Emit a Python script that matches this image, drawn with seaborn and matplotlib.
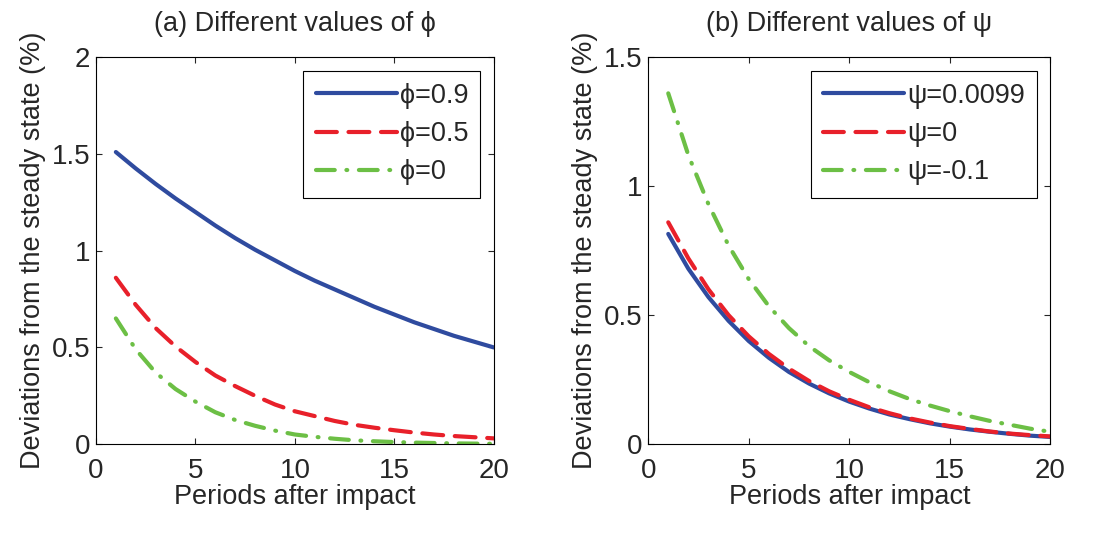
import numpy as np
import pandas as pd
import matplotlib
matplotlib.use("Agg")
import matplotlib.pyplot as plt
import seaborn as sns

periods = list(range(1, 21))

# panel (a): different values of phi
phi_09 = [1.51, 1.425, 1.345, 1.27, 1.20, 1.13, 1.065, 1.005, 0.95, 0.895,
          0.845, 0.80, 0.755, 0.71, 0.67, 0.63, 0.595, 0.56, 0.53, 0.50]
phi_05 = [0.86, 0.72, 0.60, 0.505, 0.425, 0.355, 0.30, 0.25, 0.205, 0.17,
          0.145, 0.12, 0.10, 0.085, 0.072, 0.06, 0.05, 0.042, 0.036, 0.03]
phi_0 = [0.65, 0.49, 0.37, 0.285, 0.22, 0.165, 0.125, 0.095, 0.07, 0.05,
         0.038, 0.028, 0.02, 0.015, 0.011, 0.008, 0.006, 0.004, 0.003, 0.002]

# panel (b): different values of psi
psi_0099 = [0.815, 0.68, 0.57, 0.478, 0.40, 0.335, 0.28, 0.235, 0.197, 0.165,
            0.138, 0.115, 0.097, 0.081, 0.068, 0.057, 0.048, 0.040, 0.033, 0.028]
psi_0 = [0.86, 0.72, 0.60, 0.50, 0.418, 0.35, 0.293, 0.245, 0.205, 0.172,
         0.143, 0.12, 0.10, 0.084, 0.07, 0.059, 0.049, 0.041, 0.035, 0.03]
psi_m01 = [1.36, 1.12, 0.93, 0.77, 0.64, 0.535, 0.45, 0.38, 0.325, 0.28,
           0.24, 0.205, 0.175, 0.15, 0.128, 0.108, 0.09, 0.075, 0.06, 0.048]

blue = '#2f4b9f'
red = '#e8202a'
green = '#6cbf45'
solid = '-'
dashed = (0, (5.0, 2.8))
dashdot = (0, (4.5, 2.8, 0.2, 2.8))

sns.set_style("ticks")
plt.rcParams['font.family'] = ['Liberation Sans', 'DejaVu Sans']
plt.rcParams['xtick.direction'] = 'in'
plt.rcParams['ytick.direction'] = 'in'
fs = 19.5

fig = plt.figure(figsize=(10.93, 5.45), dpi=100)
ax1 = fig.add_axes([0.0878, 0.185, 0.364, 0.710])
ax2 = fig.add_axes([0.593, 0.185, 0.368, 0.710])

panels = [
    (ax1, [(phi_09, 'ϕ=0.9', blue, solid), (phi_05, 'ϕ=0.5', red, dashed), (phi_0, 'ϕ=0', green, dashdot)],
     '(a) Different values of ϕ', 2, [0, 0.5, 1, 1.5, 2], ['0', '0.5', '1', '1.5', '2']),
    (ax2, [(psi_0099, 'ψ=0.0099', blue, solid), (psi_0, 'ψ=0', red, dashed), (psi_m01, 'ψ=-0.1', green, dashdot)],
     '(b) Different values of ψ', 1.5, [0, 0.5, 1, 1.5], ['0', '0.5', '1', '1.5']),
]

for ax, series, title, ymax, yt, ytl in panels:
    for vals, lab, col, ls in series:
        sns.lineplot(x=periods, y=vals, ax=ax, color=col, lw=3.0, linestyle=ls,
                     label=lab, dash_capstyle='round', solid_capstyle='round')
    ax.set_xlim(0, 20)
    ax.set_ylim(0, ymax)
    ax.set_xticks([0, 5, 10, 15, 20])
    ax.set_xticklabels(['0', '5', '10', '15', '20'])
    ax.set_yticks(yt)
    ax.set_yticklabels(ytl)
    ax.tick_params(top=True, right=True, labelsize=fs + 0.5, length=4, width=0.8)
    ax.tick_params(axis='x', pad=10)
    ax.tick_params(axis='y', pad=4)
    for s in ax.spines.values():
        s.set_visible(True)
        s.set_linewidth(0.8)
        s.set_color('black')
    ax.set_xlabel('Periods after impact', fontsize=fs, labelpad=0)
    ax.set_ylabel('Deviations from the steady state (%)', fontsize=fs, labelpad=4)
    ax.set_title(title, fontsize=fs, pad=19)
    leg = ax.legend(loc='upper right', fontsize=fs, handlelength=3.0, handletextpad=0.1,
                    borderaxespad=0.5, borderpad=0.45, labelspacing=0.45,
                    fancybox=False, framealpha=1)
    leg.get_frame().set_edgecolor('black')
    leg.get_frame().set_linewidth(0.8)

fig.savefig('out.png', dpi=100)
